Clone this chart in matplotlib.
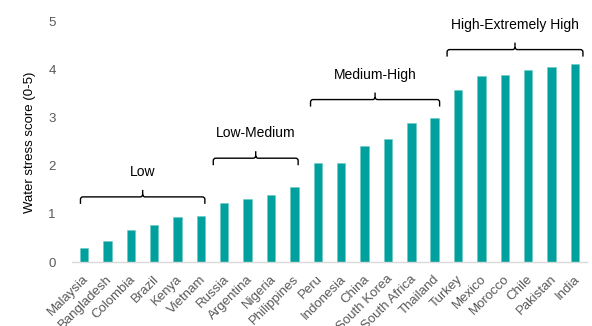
import matplotlib
matplotlib.use("Agg")
import matplotlib.pyplot as plt
from matplotlib.path import Path
from matplotlib.patches import PathPatch
import matplotlib.transforms as mtransforms

plt.rcParams['font.family'] = ['Liberation Sans', 'DejaVu Sans']

countries = ["Malaysia", "Bangladesh", "Colombia", "Brazil", "Kenya", "Vietnam",
             "Russia", "Argentina", "Nigeria", "Philippines",
             "Peru", "Indonesia", "China", "South Korea", "South Africa", "Thailand",
             "Turkey", "Mexico", "Morocco", "Chile", "Pakistan", "India"]
scores = [0.29, 0.44, 0.66, 0.78, 0.94, 0.95,
          1.23, 1.32, 1.40, 1.56,
          2.05, 2.07, 2.41, 2.56, 2.90, 2.99,
          3.57, 3.86, 3.90, 3.99, 4.06, 4.13]
y_ticks = [0, 1, 2, 3, 4, 5]

group_labels = ["Low", "Low-Medium", "Medium-High", "High-Extremely High"]
group_spans = [(-0.15, 5.17), (5.53, 9.16), (9.69, 15.21), (15.53, 21.34)]
group_levels = [1.355, 2.16, 3.38, 4.42]

BAR = "#00A09E"
TICK_GRAY = "#595959"

fig = plt.figure(figsize=(5.92, 3.26), dpi=100)
ax = fig.add_axes([0.1221, 0.1963, 0.8689, 0.7371])

x = list(range(len(countries)))
ax.bar(x, scores, width=0.36, color=BAR, edgecolor="#6CCBC6", linewidth=0.4, zorder=2)

ax.set_xlim(-0.5, len(countries) - 0.5)
ax.set_ylim(0, 5)
ax.set_yticks(y_ticks)
ax.set_yticklabels([str(t) for t in y_ticks])
ax.tick_params(axis='y', length=0, pad=12, labelsize=9.5, labelcolor=TICK_GRAY)
ax.tick_params(axis='x', length=0, pad=8, labelsize=9.5, labelcolor=TICK_GRAY)
ax.set_xticks(x)
ax.set_xticklabels(countries, rotation=45, ha='right', va='top', rotation_mode='anchor')
offset = mtransforms.ScaledTranslation(-1 / 72, 0, fig.dpi_scale_trans)
for lbl in ax.get_xticklabels():
    lbl.set_transform(lbl.get_transform() + offset)

for side in ["left", "right", "top"]:
    ax.spines[side].set_visible(False)
ax.spines["bottom"].set_color("#D9D9D9")
ax.spines["bottom"].set_linewidth(1.0)

ax.set_ylabel("Water stress score (0-5)", fontsize=9.5, color="black", labelpad=9)

# brackets (curly-brace style)
to_px = ax.transData
inv = ax.transData.inverted()
for label, (x0, x1), lev in zip(group_labels, group_spans, group_levels):
    p0 = to_px.transform((x0, lev))
    p1 = to_px.transform((x1, lev))
    arm = 7.0
    tick = 7.0
    r = 2.5
    yh = p0[1]
    xc = (p0[0] + p1[0]) / 2
    verts_px = [
        (p0[0], yh - arm), (p0[0], yh - r), (p0[0], yh), (p0[0] + r, yh),
        (xc - r, yh), (xc, yh), (xc, yh + r), (xc, yh + tick),
        (xc, yh + r), (xc, yh), (xc + r, yh),
        (p1[0] - r, yh), (p1[0], yh), (p1[0], yh - r), (p1[0], yh - arm),
    ]
    codes = [Path.MOVETO, Path.LINETO, Path.CURVE3, Path.CURVE3,
             Path.LINETO, Path.CURVE3, Path.CURVE3, Path.LINETO,
             Path.MOVETO, Path.CURVE3, Path.CURVE3,
             Path.LINETO, Path.CURVE3, Path.CURVE3, Path.LINETO]
    verts = inv.transform(verts_px)
    patch = PathPatch(Path(verts, codes), fill=False, edgecolor="black",
                      linewidth=1.0, clip_on=False, zorder=3)
    ax.add_patch(patch)
    xc_d, ytxt = inv.transform((xc, yh + tick + 18))
    ax.text(xc_d, ytxt, label, ha='center', va='center', fontsize=10,
            color="black", clip_on=False)

fig.savefig("out.png", dpi=100)
